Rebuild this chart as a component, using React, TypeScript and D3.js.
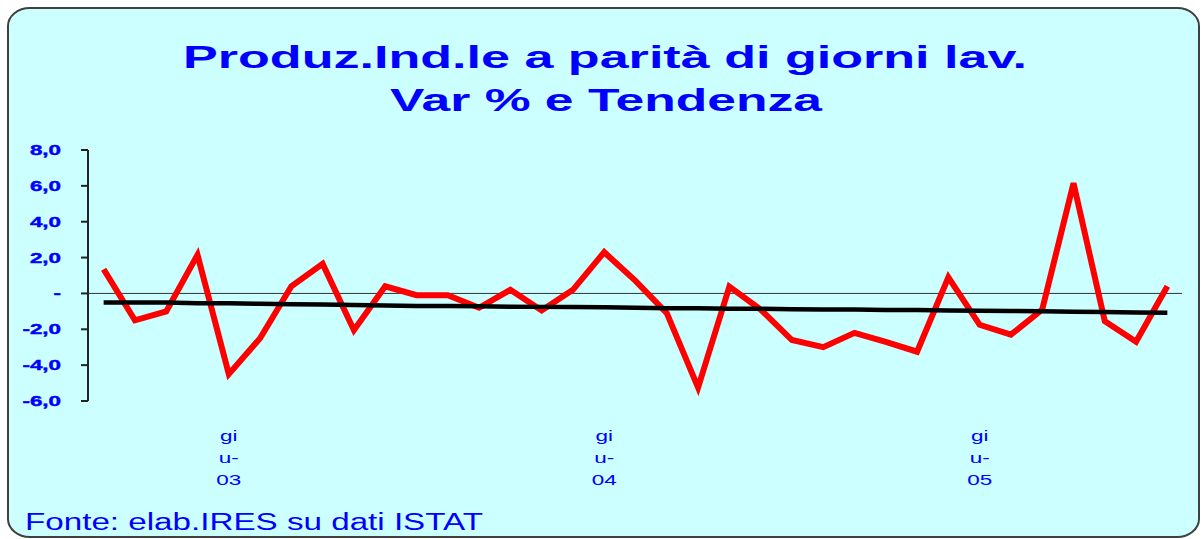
import React from "react";
import * as d3 from "d3";

const months = ["feb-03","mar-03","apr-03","mag-03","giu-03","lug-03","ago-03","set-03","ott-03","nov-03","dic-03",
  "gen-04","feb-04","mar-04","apr-04","mag-04","giu-04","lug-04","ago-04","set-04","ott-04","nov-04","dic-04",
  "gen-05","feb-05","mar-05","apr-05","mag-05","giu-05","lug-05","ago-05","set-05","ott-05","nov-05","dic-05"];

const varPct = [1.35,-1.5,-1.0,2.15,-4.5,-2.5,0.4,1.65,-2.05,0.4,-0.1,-0.1,-0.8,0.2,-0.95,0.2,2.3,0.7,-1.1,-5.25,0.38,
  -0.9,-2.6,-3.0,-2.2,-2.7,-3.25,0.9,-1.75,-2.3,-0.9,6.15,-1.55,-2.7,0.4];

const tendenza = [-0.5,-0.5,-0.5,-0.55,-0.55,-0.58,-0.6,-0.62,-0.65,-0.67,-0.7,-0.7,-0.72,-0.74,-0.75,-0.75,-0.77,-0.8,
  -0.82,-0.83,-0.85,-0.86,-0.88,-0.9,-0.9,-0.92,-0.93,-0.95,-0.97,-0.98,-1.0,-1.02,-1.04,-1.06,-1.08];

const yTicks = [8, 6, 4, 2, 0, -2, -4, -6];
const labelledMonths = ["giu-03", "giu-04", "giu-05"];
const labelLines: Record<string, string[]> = {
  "giu-03": ["gi", "u-", "03"],
  "giu-04": ["gi", "u-", "04"],
  "giu-05": ["gi", "u-", "05"],
};

const titleLines = ["Produz.Ind.le a parità di giorni lav.", "Var % e Tendenza"];
const footer = "Fonte: elab.IRES su dati ISTAT";

const fmt = (v: number) => (v === 0 ? "-" : d3.format(".1f")(v).replace(".", ",").replace("−", "-"));

export default function App() {
  const W = 1203, H = 539;
  const x = d3.scalePoint<string>().domain(months).range([88, 1183]).padding(0.5);
  const y = d3.scaleLinear().domain([-6, 8]).range([401, 150]);
  const line = d3.line<number>().x((_, i) => x(months[i]) as number).y((d) => y(d));
  const font = "'Liberation Sans', Arial, sans-serif";
  const blue = "#0000FF";

  return (
    <svg width={W} height={H} style={{ position: "absolute", left: 0, top: 0 }} xmlns="http://www.w3.org/2000/svg">
      <rect x={0} y={0} width={W} height={H} fill="#ffffff" />
      <rect x={8} y={8} width={1191} height={529} rx={22} ry={18} fill="#CCFFFF" stroke="#404040" strokeWidth={2} />
      <text x={605} y={68} textAnchor="middle" fontFamily={font} fontWeight="bold" fontSize={32} fill={blue}
        textLength={844} lengthAdjust="spacingAndGlyphs">{titleLines[0]}</text>
      <text x={606} y={111} textAnchor="middle" fontFamily={font} fontWeight="bold" fontSize={32} fill={blue}
        textLength={432} lengthAdjust="spacingAndGlyphs">{titleLines[1]}</text>

      {/* zero line */}
      <line x1={88} x2={1182} y1={y(0)} y2={y(0)} stroke="#333" strokeWidth={1} />
      {/* y axis */}
      <line x1={88} x2={88} y1={y(8)} y2={y(-6)} stroke="#222" strokeWidth={2} />
      {yTicks.map((t) => (
        <g key={t}>
          <line x1={81} x2={88} y1={y(t)} y2={y(t)} stroke="#222" strokeWidth={2} />
          <g transform={`translate(61,${y(t) + 5}) scale(1.6,1)`}>
            <text textAnchor="end" fontFamily={font} fontWeight="bold" fontSize={14} fill={blue}
              stroke={blue} strokeWidth={0.4}>{fmt(t)}</text>
          </g>
        </g>
      ))}

      {labelledMonths.map((m) => (
        <g key={m}>
          {labelLines[m].map((s, i) => (
            <g key={i} transform={`translate(${x(m)},${441 + i * 22}) scale(1.5,1)`}>
              <text textAnchor="middle" fontFamily={font} fontSize={15} fill={blue}>{s}</text>
            </g>
          ))}
        </g>
      ))}

      <path d={line(varPct) || ""} fill="none" stroke="#FF0000" strokeWidth={6} strokeLinejoin="miter" />
      <path d={line(tendenza) || ""} fill="none" stroke="#000000" strokeWidth={4.5} />

      <text x={25} y={530} fontFamily={font} fontSize={23} fill={blue} textLength={458}
        lengthAdjust="spacingAndGlyphs">{footer}</text>
    </svg>
  );
}
